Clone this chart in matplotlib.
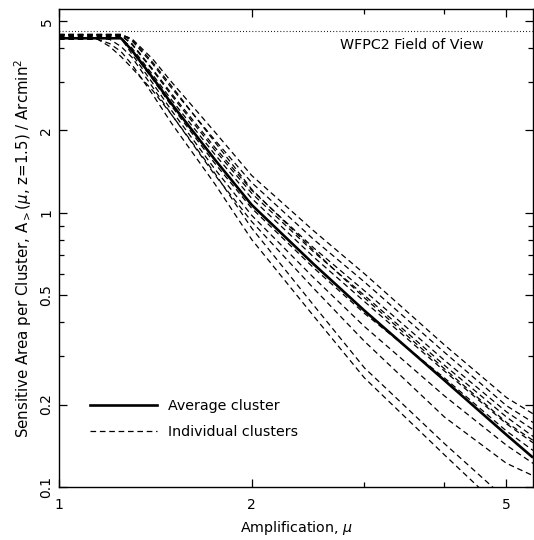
import matplotlib
matplotlib.use("Agg")
import matplotlib.pyplot as plt
from matplotlib.ticker import FixedLocator, NullFormatter, FixedFormatter
from matplotlib.lines import Line2D

plt.rcParams['font.family'] = ['DejaVu Sans']
plt.rcParams['mathtext.fontset'] = 'dejavusans'

# Amplification grid
MU = [1.00, 1.10, 1.15, 1.20, 1.25, 1.30, 1.40, 1.50, 1.75, 2.00, 2.50, 3.00, 4.00, 5.00, 5.50]

# Average cluster
avg_cluster = [4.34, 4.34, 4.34, 4.34, 4.34, 3.92, 3.12, 2.50, 1.57, 1.07, 0.65, 0.44, 0.245, 0.155, 0.128]

# Individual clusters
cluster_01 = [4.30, 4.30, 4.30, 4.15, 3.88, 3.48, 2.71, 2.12, 1.28, 0.80, 0.42, 0.250, 0.131, 0.080, 0.065]
cluster_02 = [4.34, 4.34, 4.30, 4.05, 3.72, 3.38, 2.80, 2.28, 1.40, 0.88, 0.46, 0.272, 0.144, 0.090, 0.074]
cluster_03 = [4.34, 4.34, 4.34, 4.30, 4.05, 3.70, 2.88, 2.28, 1.38, 0.93, 0.53, 0.340, 0.180, 0.122, 0.110]
cluster_04 = [4.34, 4.34, 4.34, 4.34, 4.34, 3.80, 2.98, 2.36, 1.45, 0.98, 0.58, 0.385, 0.215, 0.142, 0.122]
cluster_05 = [4.40, 4.40, 4.40, 4.40, 4.40, 3.90, 3.08, 2.45, 1.52, 1.04, 0.63, 0.430, 0.250, 0.160, 0.136]
cluster_06 = [4.34, 4.34, 4.34, 4.34, 4.34, 4.00, 3.20, 2.58, 1.64, 1.13, 0.69, 0.475, 0.265, 0.170, 0.145]
cluster_07 = [4.45, 4.45, 4.45, 4.45, 4.45, 4.12, 3.32, 2.68, 1.70, 1.18, 0.72, 0.500, 0.278, 0.180, 0.153]
cluster_08 = [4.45, 4.45, 4.45, 4.45, 4.45, 4.15, 3.35, 2.72, 1.74, 1.21, 0.745, 0.520, 0.290, 0.188, 0.162]
cluster_09 = [4.48, 4.48, 4.48, 4.48, 4.48, 4.25, 3.50, 2.85, 1.85, 1.29, 0.80, 0.560, 0.310, 0.198, 0.172]
cluster_10 = [4.48, 4.48, 4.48, 4.48, 4.48, 4.32, 3.65, 3.00, 1.98, 1.37, 0.86, 0.600, 0.330, 0.212, 0.185]
cluster_11 = [4.48, 4.48, 4.48, 4.48, 4.48, 4.30, 3.55, 2.90, 1.82, 1.22, 0.73, 0.490, 0.270, 0.172, 0.148]

clusters = [cluster_01, cluster_02, cluster_03, cluster_04, cluster_05, cluster_06,
            cluster_07, cluster_08, cluster_09, cluster_10, cluster_11]

wfpc2_fov = 4.62

x_ticks = [1, 2, 5]
x_ticklabels = ["1", "2", "5"]
y_ticks = [0.1, 0.2, 0.5, 1, 2, 5]
y_ticklabels = ["0.1", "0.2", "0.5", "1", "2", "5"]

fig = plt.figure(figsize=(5.34, 5.40), dpi=100)
ax = fig.add_axes([59/534, 1-487/540, 474/534, 478/540])

for c in clusters:
    ax.plot(MU, c, color='black', lw=0.9, linestyle=(0, (4.5, 3.0)))
ax.plot(MU, avg_cluster, color='black', lw=1.9, solid_capstyle='butt')

ax.axhline(wfpc2_fov, color='black', lw=0.8, linestyle=(0, (0.8, 2.0)))
ax.text(4.6, 4.10, "WFPC2 Field of View", ha='right', va='center', fontsize=10.3)

ax.set_xscale('log')
ax.set_yscale('log')
ax.set_xlim(1.0, 5.5)
ax.set_ylim(0.1, 5.55)

ax.xaxis.set_major_locator(FixedLocator(x_ticks))
ax.xaxis.set_major_formatter(FixedFormatter(x_ticklabels))
ax.xaxis.set_minor_locator(FixedLocator([3, 4]))
ax.xaxis.set_minor_formatter(NullFormatter())
ax.yaxis.set_major_locator(FixedLocator(y_ticks))
ax.yaxis.set_major_formatter(FixedFormatter(y_ticklabels))
ax.yaxis.set_minor_locator(FixedLocator([0.3, 0.4, 0.6, 0.7, 0.8, 0.9, 3, 4]))
ax.yaxis.set_minor_formatter(NullFormatter())

ax.tick_params(which='both', direction='in', top=True, right=True, width=0.9)
ax.tick_params(which='major', length=6, labelsize=10)
ax.tick_params(axis='x', which='major', pad=8)
ax.tick_params(axis='y', which='major', pad=4)
ax.tick_params(which='minor', length=3.5)
for lab in ax.get_yticklabels():
    lab.set_rotation(90)
    lab.set_va('center')

for s in ax.spines.values():
    s.set_linewidth(1.0)

ax.set_xlabel(r"Amplification, $\mu$", fontsize=10.3, labelpad=5)
ax.set_ylabel(r"Sensitive Area per Cluster, A$_{>}$($\mu$, z=1.5) / Arcmin$^2$", fontsize=10.8, labelpad=4)

handles = [Line2D([], [], color='black', lw=1.9),
           Line2D([], [], color='black', lw=0.9, linestyle=(0, (4.5, 3.0)))]
ax.legend(handles, ["Average cluster", "Individual clusters"], loc='upper left',
          bbox_to_anchor=(0.065, 0.185), frameon=False, fontsize=10.3,
          handlelength=4.7, handletextpad=0.75, labelspacing=0.85, borderpad=0, borderaxespad=0)

fig.savefig("out.png", dpi=100)
